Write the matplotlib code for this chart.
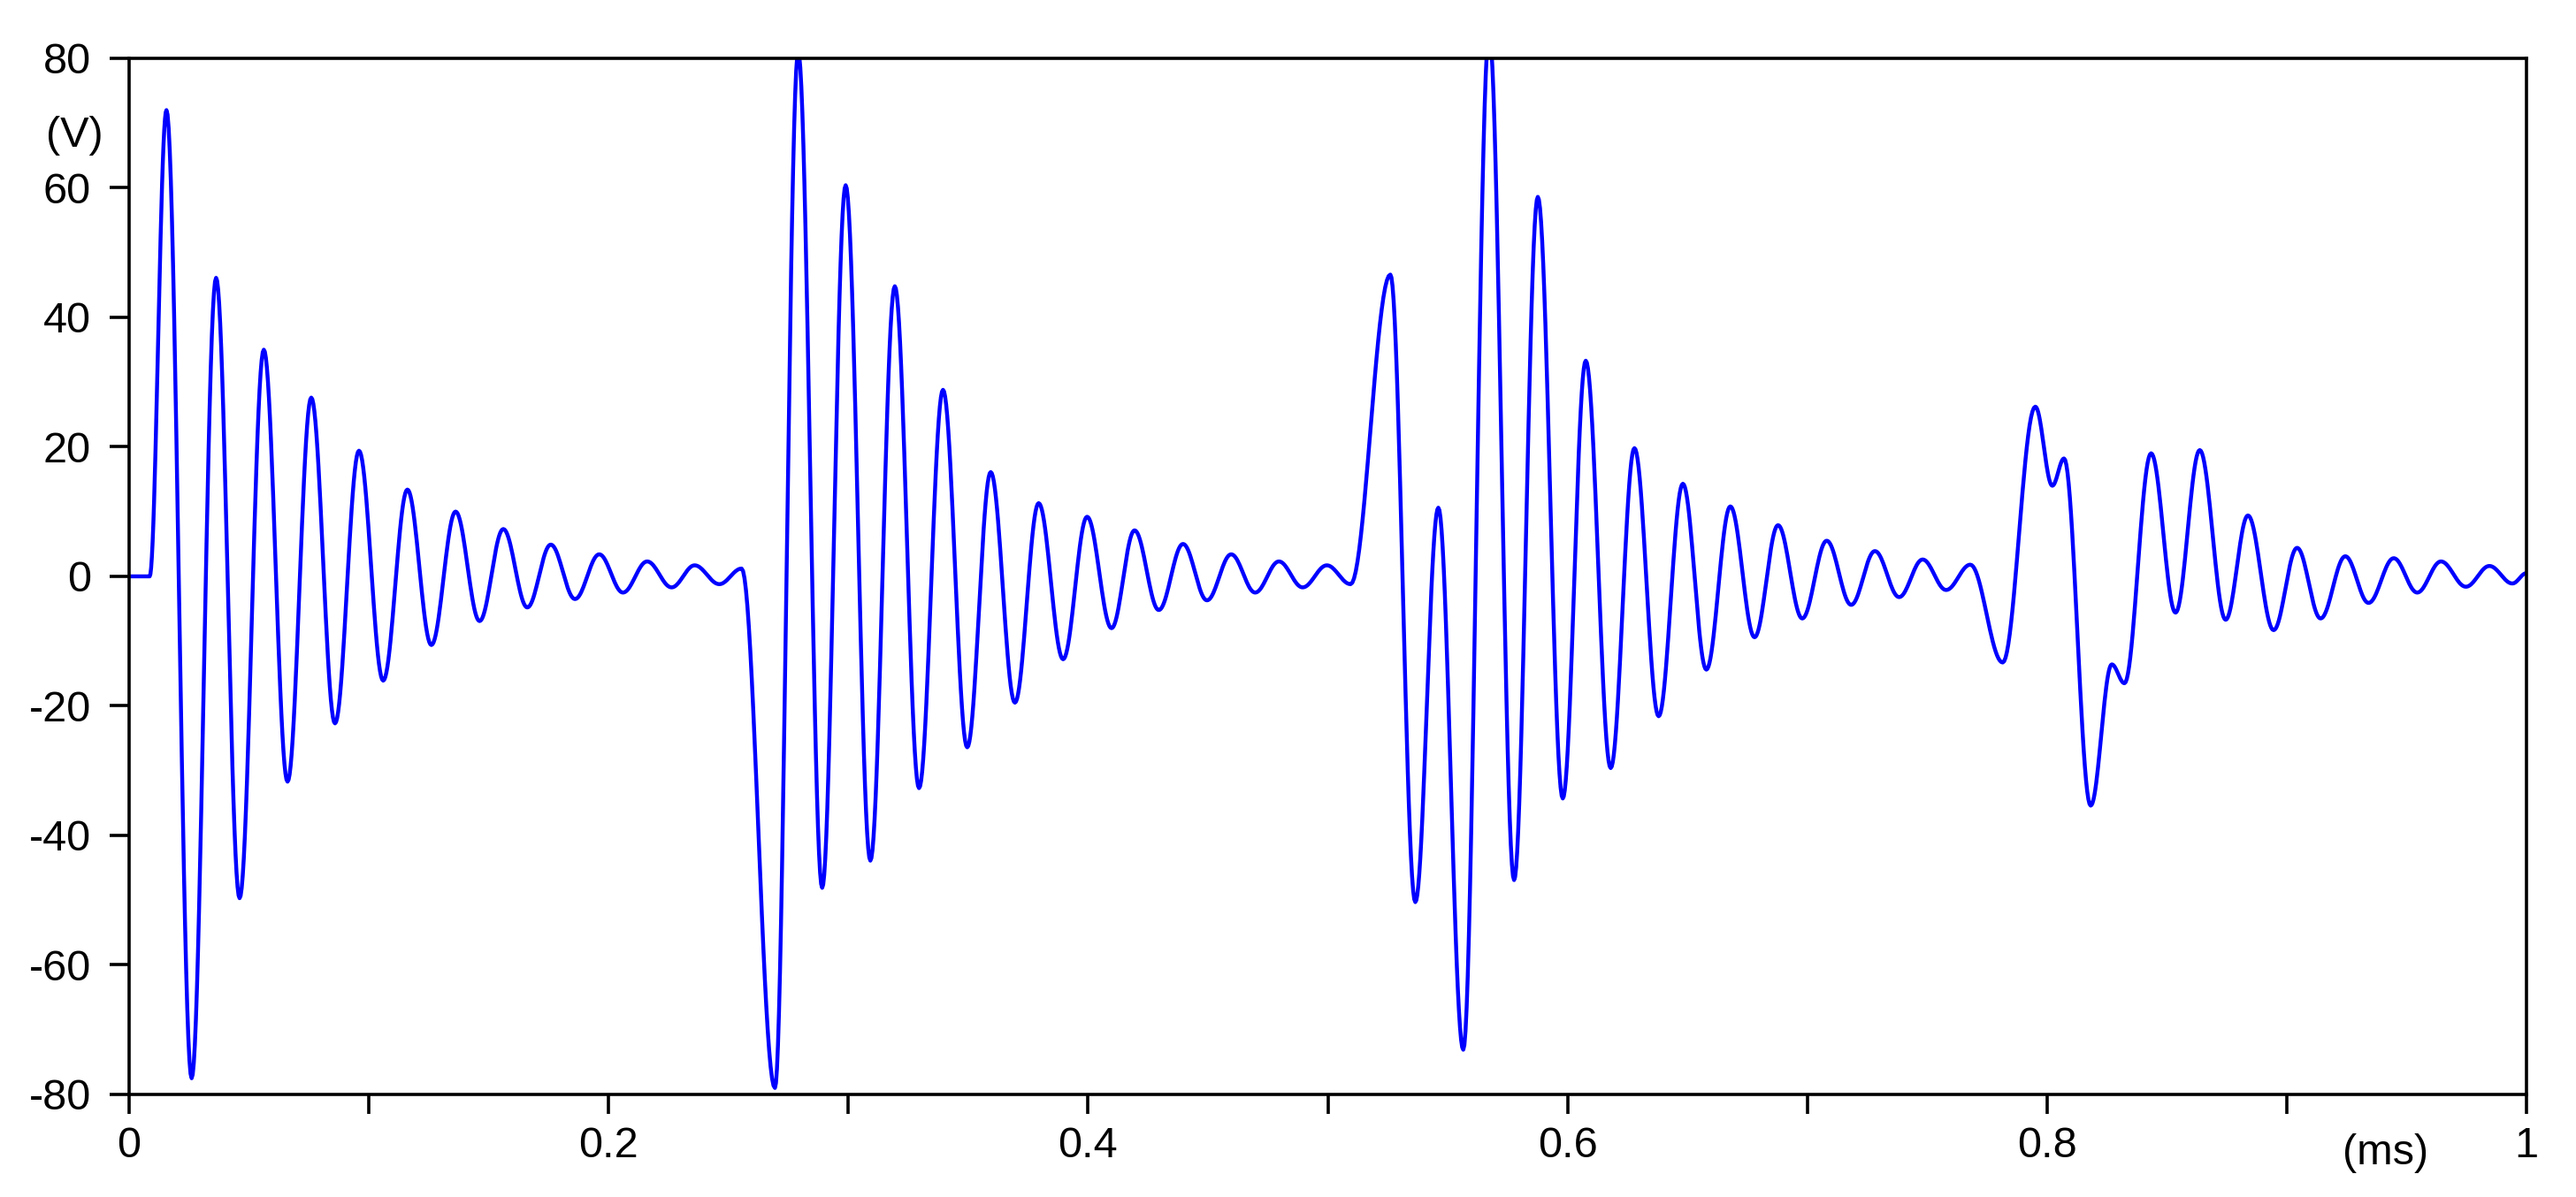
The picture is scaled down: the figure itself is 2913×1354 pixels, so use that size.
import numpy as np
import matplotlib

matplotlib.use("Agg")
import matplotlib.pyplot as plt

# turning points of the trace: time (ms), voltage (V)
peak_times = [
    0.0, 0.0086, 0.0156, 0.0261, 0.0363, 0.0461, 0.0562, 0.0661, 0.0760, 0.0859,
    0.0959, 0.1060, 0.1161, 0.1261, 0.1362, 0.1462, 0.1561, 0.1661, 0.1759, 0.1860,
    0.1961, 0.2060, 0.2161, 0.2263, 0.2359, 0.2462, 0.2555, 0.2694, 0.2791, 0.2891,
    0.2989, 0.3092, 0.3194, 0.3295, 0.3395, 0.3496, 0.3594, 0.3695, 0.3794, 0.3896,
    0.3996, 0.4098, 0.4194, 0.4295, 0.4396, 0.4496, 0.4597, 0.4697, 0.4796, 0.4895,
    0.4996, 0.5095, 0.5261, 0.5365, 0.5461, 0.5565, 0.5673, 0.5777, 0.5876, 0.5980,
    0.6076, 0.6180, 0.6279, 0.6380, 0.6481, 0.6579, 0.6679, 0.6780, 0.6878, 0.6979,
    0.7081, 0.7183, 0.7282, 0.7383, 0.7481, 0.7579, 0.7680, 0.7815, 0.7951, 0.8022,
    0.8071, 0.8182, 0.8270, 0.8323, 0.8434, 0.8536, 0.8637, 0.8745, 0.8838, 0.8945,
    0.9043, 0.9141, 0.9244, 0.9341, 0.9446, 0.9544, 0.9643, 0.9747, 0.9845, 0.9941,
    1.0,
]
peak_volts = [
    0.0, 0.0, 72.0, -77.5, 46.1, -49.7, 35.0, -31.7, 27.6, -22.7,
    19.4, -16.1, 13.4, -10.6, 10.0, -6.9, 7.3, -4.8, 4.9, -3.5,
    3.4, -2.5, 2.3, -1.7, 1.7, -1.2, 1.2, -79.0, 81.0, -48.1,
    60.4, -43.9, 44.8, -32.7, 28.8, -26.4, 16.1, -19.5, 11.3, -12.8,
    9.2, -8.0, 7.1, -5.2, 5.0, -3.7, 3.4, -2.5, 2.3, -1.7,
    1.7, -1.2, 46.6, -50.3, 10.6, -73.1, 84.0, -46.9, 58.6, -34.3,
    33.3, -29.6, 19.8, -21.6, 14.3, -14.4, 10.8, -9.4, 7.9, -6.5,
    5.5, -4.4, 3.9, -3.2, 2.6, -2.1, 1.8, -13.3, 26.2, 14.0,
    18.2, -35.4, -13.6, -16.5, 19.0, -5.6, 19.5, -6.7, 9.4, -8.3,
    4.4, -6.5, 3.1, -4.1, 2.8, -2.5, 2.3, -1.6, 1.6, -1.1,
    0.5,
]

x_ticks = np.round(np.arange(0, 1.01, 0.1), 1)
x_tick_labels = ["0", "", "0.2", "", "0.4", "", "0.6", "", "0.8", "", "1"]
y_ticks = [-80, -60, -40, -20, 0, 20, 40, 60, 80]
y_tick_labels = ["-80", "-60", "-40", "-20", "0", "20", "40", "60", "80"]


def smooth_path(times, volts, steps=24):
    """Join successive turning points with a half-cosine so the trace stays round."""
    xs, ys = [times[0]], [volts[0]]
    s = np.linspace(0, 1, steps)[1:]
    ease = (1 - np.cos(np.pi * s)) / 2
    for (t0, v0), (t1, v1) in zip(zip(times, volts), zip(times[1:], volts[1:])):
        xs.extend(t0 + (t1 - t0) * s)
        ys.extend(v0 + (v1 - v0) * ease)
    return np.array(xs), np.array(ys)


plt.rcParams["font.family"] = ["Liberation Sans", "DejaVu Sans"]

fig = plt.figure(figsize=(29.13, 13.54), dpi=100)
ax = fig.add_axes([0.0501, 0.0857, 0.9307, 0.8656])

tx, vy = smooth_path(peak_times, peak_volts)
ax.plot(tx, vy, color="#0000ff", linewidth=3.2)

ax.set_xlim(0, 1)
ax.set_ylim(-80, 80)
ax.set_xticks(x_ticks)
ax.set_xticklabels(x_tick_labels)
ax.set_yticks(y_ticks)
ax.set_yticklabels(y_tick_labels)
ax.tick_params(axis="both", direction="out", length=16, width=2.6,
               labelsize=35, colors="black")
ax.tick_params(axis="x", pad=10)
ax.tick_params(axis="y", pad=15)
for spine in ax.spines.values():
    spine.set_linewidth(2.6)

fig.text(52 / 2913, 1 - 153 / 1354, "(V)", fontsize=35, ha="left", va="center")
ax.text(0.941, -0.057, "(ms)", transform=ax.get_xaxis_transform(),
        fontsize=35, ha="center", va="center")

fig.savefig("out.png", dpi=100, facecolor="white")
